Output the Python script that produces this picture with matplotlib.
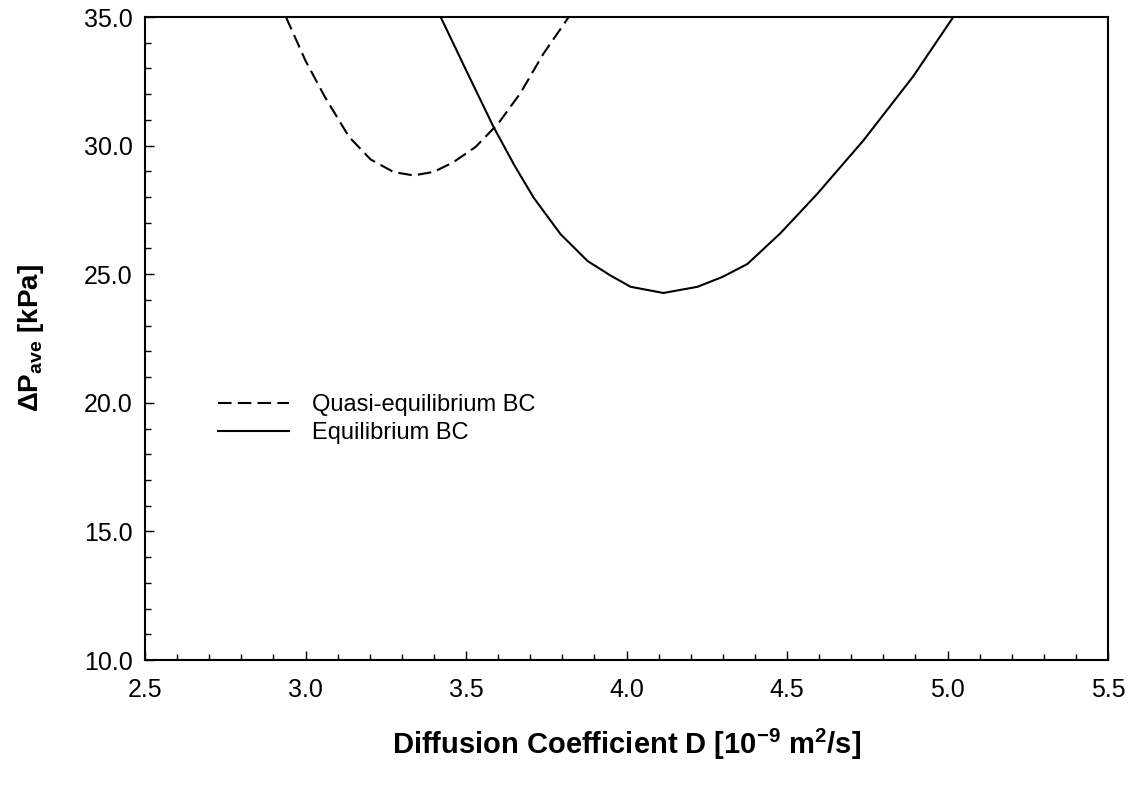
import matplotlib
matplotlib.use('Agg')
import matplotlib.pyplot as plt
from matplotlib.ticker import MultipleLocator, FormatStrFormatter

plt.rcParams['font.family'] = ['Liberation Sans', 'DejaVu Sans']
plt.rcParams['mathtext.fontset'] = 'custom'
plt.rcParams['mathtext.rm'] = 'Liberation Sans'
plt.rcParams['mathtext.bf'] = 'Liberation Sans:bold'

# quasi-equilibrium boundary condition (dashed)
quasi_d = [2.939, 3.000, 3.060, 3.135, 3.203, 3.275, 3.337, 3.400, 3.460, 3.530, 3.600, 3.670, 3.740, 3.820]
quasi_p = [35.00, 33.30, 31.90, 30.35, 29.46, 28.97, 28.84, 28.98, 29.35, 29.95, 30.85, 32.05, 33.55, 35.00]

# equilibrium boundary condition (solid)
equi_d = [3.421, 3.505, 3.586, 3.650, 3.711, 3.795, 3.879, 3.950, 4.013, 4.115, 4.221, 4.300, 4.377, 4.480, 4.594, 4.738, 4.893, 5.018]
equi_p = [35.00, 32.81, 30.72, 29.25, 27.97, 26.55, 25.51, 24.95, 24.51, 24.27, 24.51, 24.90, 25.40, 26.60, 28.12, 30.20, 32.69, 35.00]

fig = plt.figure(figsize=(11.36, 8.02), dpi=100)
ax = fig.add_axes([145 / 1136, 1 - 660 / 802, 963 / 1136, 643 / 802])

ax.plot(quasi_d, quasi_p, color='black', lw=1.5, linestyle=(0, (6.5, 3.0)),
        label='Quasi-equilibrium BC')
ax.plot(equi_d, equi_p, color='black', lw=1.5, label='Equilibrium BC')

ax.set_xlim(2.5, 5.5)
ax.set_ylim(10, 35)
ax.xaxis.set_major_locator(MultipleLocator(0.5))
ax.xaxis.set_minor_locator(MultipleLocator(0.1))
ax.yaxis.set_major_locator(MultipleLocator(5))
ax.yaxis.set_minor_locator(MultipleLocator(1))
ax.xaxis.set_major_formatter(FormatStrFormatter('%.1f'))
ax.yaxis.set_major_formatter(FormatStrFormatter('%.1f'))

for s in ax.spines.values():
    s.set_linewidth(1.5)
ax.tick_params(which='both', direction='in', top=False, right=False, width=1, labelsize=18)
ax.tick_params(which='major', length=6.5)
ax.tick_params(which='minor', length=4)
ax.tick_params(axis='x', which='major', pad=13)
ax.tick_params(axis='y', which='major', pad=9)

ax.set_xlabel(r'Diffusion Coefficient D [10$^{\mathbf{-9}}$ m$^{\mathbf{2}}$/s]',
              fontsize=21, fontweight='bold', va='center')
ax.xaxis.set_label_coords(0.5, -0.132)
ax.set_ylabel(r'$\mathbf{\Delta P_{ave}}$ [kPa]', fontsize=20, fontweight='bold', va='center')
ax.yaxis.set_label_coords(-0.118, 0.5)

ax.legend(loc='upper left', bbox_to_anchor=(218 / 1136, 1 - 394 / 802),
          bbox_transform=fig.transFigure, frameon=False, fontsize=17,
          handlelength=3.0, handletextpad=1.0, labelspacing=0.25, borderpad=0,
          borderaxespad=0)

fig.savefig('out.png', dpi=100)
